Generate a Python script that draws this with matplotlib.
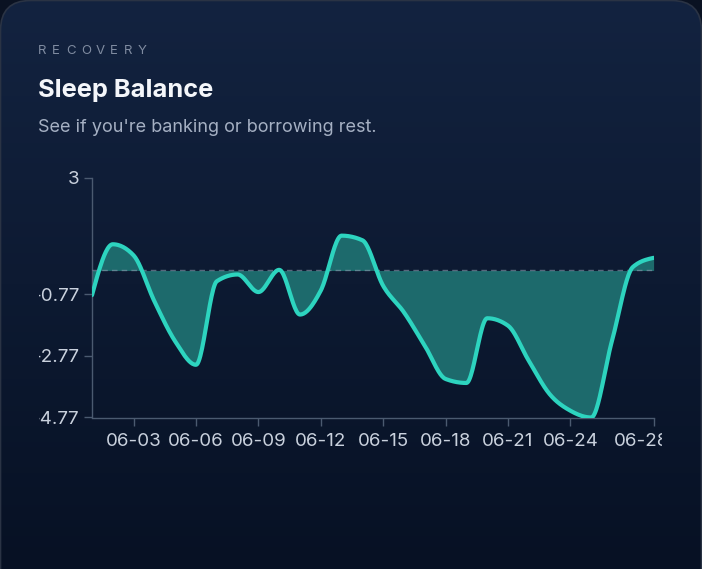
import numpy as np
import matplotlib
matplotlib.use("Agg")
import matplotlib.pyplot as plt
from matplotlib.patches import FancyBboxPatch
from matplotlib.transforms import Bbox, TransformedBbox, ScaledTranslation

# ---- data ----
dates = ["06-%02d" % d for d in range(1, 29)]
balance = [-0.80, 0.85, 0.49, -1.00, -2.30, -3.06, -0.35, -0.13, -0.70, 0.02,
           -1.43, -0.65, 1.13, 0.98, -0.50, -1.36, -2.44, -3.52, -3.65, -1.55,
           -1.79, -2.93, -4.01, -4.55, -4.77, -2.28, 0.11, 0.41]
y_ticks = [3, -0.77, -2.77, -4.77]
y_tick_labels = ["3", "-0.77", "-2.77", "-4.77"]
x_tick_labels = ["06-03", "06-06", "06-09", "06-12", "06-15", "06-18", "06-21", "06-24", "06-28"]


def monotone_x(x, y, n=24):
    x = np.asarray(x, float); y = np.asarray(y, float)
    h = np.diff(x); s = np.diff(y) / h
    t = np.zeros_like(y)
    for i in range(1, len(y) - 1):
        h0, h1, s0, s1 = h[i-1], h[i], s[i-1], s[i]
        p = (s0 * h1 + s1 * h0) / (h0 + h1)
        t[i] = (np.sign(s0) + np.sign(s1)) * min(abs(s0), abs(s1), 0.5 * abs(p))
    t[0] = (3 * s[0] - t[1]) / 2
    t[-1] = (3 * s[-1] - t[-2]) / 2
    xs, ys = [], []
    for i in range(len(y) - 1):
        u = np.linspace(0, 1, n, endpoint=(i == len(y) - 2))
        h00 = 2*u**3 - 3*u**2 + 1; h10 = u**3 - 2*u**2 + u
        h01 = -2*u**3 + 3*u**2; h11 = u**3 - u**2
        xs.append(x[i] + u * h[i])
        ys.append(h00*y[i] + h10*h[i]*t[i] + h01*y[i+1] + h11*h[i]*t[i+1])
    return np.concatenate(xs), np.concatenate(ys)


W, H = 702, 569
fig = plt.figure(figsize=(W/100, H/100), dpi=100)
fig.patch.set_facecolor("#0a1222")

# background card with gradient
bg = fig.add_axes([0, 0, 1, 1], zorder=-5)
bg.set_xlim(0, W); bg.set_ylim(H, 0); bg.axis("off")
grad = np.linspace(0, 1, 256)[:, None]
top = np.array([0x13, 0x23, 0x40]) / 255
bot = np.array([0x07, 0x11, 0x24]) / 255
img = top[None, None, :] * (1 - grad[:, :, None]) + bot[None, None, :] * grad[:, :, None]
card = FancyBboxPatch((0.5, 0.5), W - 1, H + 60, boxstyle="round,pad=0,rounding_size=30",
                      facecolor="none", edgecolor="#2a3344", linewidth=1.2, zorder=2)
bg.add_patch(card)
im = bg.imshow(img, extent=[0, W, H, 0], aspect="auto", zorder=1)
im.set_clip_path(card)

# header texts
fam = ["Inter", "DejaVu Sans"]
rec = "RECOVERY"
x0 = 38
for i, ch in enumerate(rec):
    fig.text((x0 + i * 14.3) / W, 1 - 50.5 / H, ch, fontsize=9.5, color="#7f8ba0",
             family=fam, va="center", ha="left")
fig.text(38 / W, 1 - 90 / H, "Sleep Balance", fontsize=18.3, fontweight="bold",
         color="#f4f6fa", family=fam, va="center", ha="left")
fig.text(38 / W, 1 - 127 / H, "See if you're banking or borrowing rest.", fontsize=13,
         color="#a5b0c3", family=fam, va="center", ha="left")

# chart axes
L, R, T, B = 92, 653.6, 178, 417.5
ax = fig.add_axes([L / W, 1 - B / H, (R - L) / W, (B - T) / H])
ax.set_facecolor("none")
xi = np.arange(len(balance))
xs, ys = monotone_x(xi, balance)
ax.fill_between(xs, ys, 0, color="#1d6a6c", linewidth=0, zorder=2)
ax.axhline(0, color="#8a9aae", linewidth=1, linestyle=(0, (4, 3)), alpha=0.6, zorder=3)
ax.plot(xs, ys, color="#2dd4bf", linewidth=3.0, solid_capstyle="round", zorder=4)
ax.set_xlim(0, len(balance) - 1)
ax.set_ylim(-4.77, 3)

xt = [dates.index(lbl) for lbl in x_tick_labels]
ax.set_xticks(xt)
ax.set_xticklabels(x_tick_labels)
ax.set_yticks(y_ticks)
ax.set_yticklabels(y_tick_labels)
for sp in ["top", "right"]:
    ax.spines[sp].set_visible(False)
for sp in ["left", "bottom"]:
    ax.spines[sp].set_color("#4b5a70")
    ax.spines[sp].set_linewidth(1)
ax.tick_params(axis="both", colors="#4b5a70", length=6, width=1, labelsize=13.5, labelcolor="#c9d1dd")
ax.tick_params(axis="x", pad=5)
ax.tick_params(axis="y", pad=3)
for lbl in ax.get_xticklabels() + ax.get_yticklabels():
    lbl.set_family(fam)

last = ax.get_xticklabels()[-1]
last.set_transform(last.get_transform() + ScaledTranslation(-12 / 100, 0, fig.dpi_scale_trans))

clip = TransformedBbox(Bbox([[38.8 / W, 0], [662 / W, 1]]), fig.transFigure)
for lbl in ax.get_xticklabels() + ax.get_yticklabels():
    lbl.set_clip_box(clip)
    lbl.set_clip_on(True)

fig.savefig("out.png", dpi=100, facecolor=fig.get_facecolor())
